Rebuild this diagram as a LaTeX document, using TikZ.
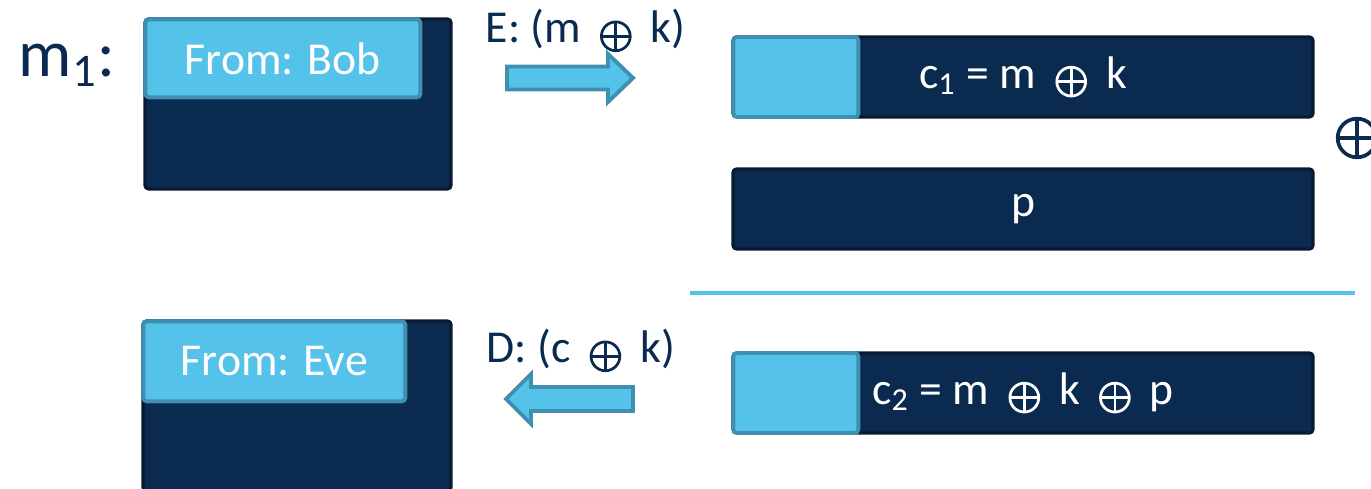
\documentclass[tikz,border=0pt]{standalone}
\usepackage{fontspec}
\setmainfont{Carlito}
\usetikzlibrary{positioning}
\definecolor{navy}{RGB}{11,42,79}
\definecolor{navyedge}{RGB}{8,26,50}
\definecolor{sky}{RGB}{85,194,234}
\definecolor{skyedge}{RGB}{62,143,176}
% circled plus; optional argument is the radius
\newcommand{\xorop}[1][4.1pt]{\kern2.5pt\tikz[baseline=0pt, line width=0.19*#1]{%
    \draw (0,1.9pt) circle (#1);
    \draw (-#1,1.9pt) -- (#1,1.9pt) (0,1.9pt-#1) -- (0,1.9pt+#1);}\kern2.5pt}

\begin{document}
\begin{tikzpicture}[
    msg/.style={rectangle, draw=navyedge, fill=navy, line width=0.9pt, rounded corners=1pt,
                minimum width=3.06cm, minimum height=1.70cm},
    tag/.style={rectangle, draw=skyedge, fill=sky, line width=1.1pt, rounded corners=1pt,
                minimum height=0.78cm, inner sep=0pt, text=white, font=\fontsize{13}{15}\selectfont},
    bar/.style={rectangle, draw=navyedge, fill=navy, line width=0.9pt, rounded corners=1pt,
                minimum width=5.80cm, minimum height=0.80cm, inner sep=0pt,
                text=white, font=\fontsize{13}{15}\selectfont},
    pad/.style={tag, minimum width=1.25cm, minimum height=0.80cm},
    lbl/.style={inner sep=0pt, text=navy, font=\fontsize{13}{15}\selectfont},
    fat/.style={draw=skyedge, fill=sky, line width=1.1pt, line join=miter}
]
\useasboundingbox (0,0) rectangle (13.71,-4.89);

% Sender side: Bob's message
\node[lbl, font=\fontsize{19}{22}\selectfont, anchor=base west] (mone) at (0.18,-0.77) {m\textsubscript{1}:};
\node[msg] (bob) at (2.98,-1.04) {};
\node[tag, minimum width=2.75cm, anchor=north west] (bobtag) at (bob.north west) {From: Bob};

% Encryption step
\node[lbl, anchor=base west] (enclbl) at (4.85,-0.43) {E: (m \xorop{} k)};
\coordinate (enctail) at (5.07,-0.78);
\draw[fat] (enctail) ++(0,0.115) -- ++(1.01,0) -- ++(0,0.125) -- ++(0.25,-0.24)
    -- ++(-0.25,-0.24) -- ++(0,0.125) -- ++(-1.01,0) -- cycle;

% Ciphertext and the attacker's pad
\node[bar] (cone) at (10.23,-0.77) {c\textsubscript{1} = m \xorop{} k};
\node[pad, anchor=west] (conetag) at (cone.west) {};
\node[lbl, inner sep=0pt] (xorsign) at (13.57,-1.38) {\xorop[5.5pt]};
\node[bar] (pbar) at (10.23,-2.09) {p};

% Result line
\coordinate (ruleL) at (6.90,-2.93);
\coordinate (ruleR) at (13.55,-2.93);
\draw[sky, line width=1.4pt] (ruleL) -- (ruleR);

\node[bar] (ctwo) at (10.23,-3.93) {c\textsubscript{2} = m \xorop{} k \xorop{} p};
\node[pad, anchor=west] (ctwotag) at (ctwo.west) {};

% Decryption step
\node[lbl, anchor=base west] (declbl) at (4.86,-3.63) {D: (c \xorop{} k)};
\coordinate (dectail) at (6.33,-3.99);
\draw[fat] (dectail) ++(0,0.12) -- ++(-1.02,0) -- ++(0,0.13) -- ++(-0.25,-0.25)
    -- ++(0.25,-0.25) -- ++(0,0.13) -- ++(1.02,0) -- cycle;

% Receiver side: forged message
\node[msg, minimum width=3.08cm] (eve) at (2.97,-4.06) {};
\node[tag, minimum width=2.62cm, minimum height=0.80cm, anchor=north west] (evetag) at (eve.north west) {From: Eve};
\end{tikzpicture}
\end{document}
